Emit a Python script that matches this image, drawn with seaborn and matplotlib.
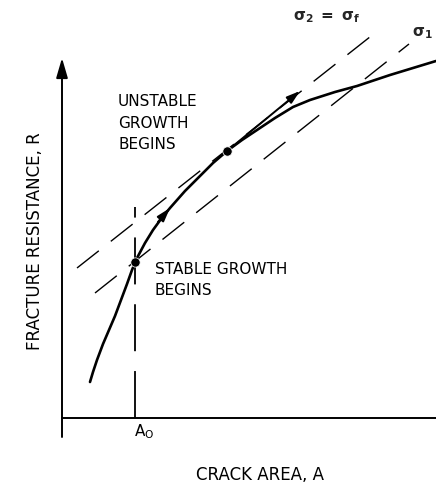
import numpy as np
import pandas as pd
import matplotlib
matplotlib.use("Agg")
import matplotlib.pyplot as plt
import seaborn as sns

# R-curve (crack area A, fracture resistance R; arbitrary units)
crack_area = [2.8, 3.1, 3.5, 4.1, 4.7, 5.3, 5.9, 6.5, 7.0, 7.5, 8.3, 9.1, 9.9, 10.8,
              12.3, 13.8, 15.1, 16.5, 18.0, 19.5, 21.3, 23.1, 24.8, 27.3, 29.5, 32.8, 37.4]
resistance = [3.6, 4.6, 5.8, 7.4, 8.8, 10.2, 11.8, 13.4, 14.8, 16.0, 17.5, 18.8, 19.9, 21.0,
              22.7, 24.2, 25.5, 26.7, 27.8, 28.8, 30.0, 31.1, 31.8, 32.6, 33.2, 34.3, 35.7]

# driving-force lines (end points)
sigma_f_A = [1.5, 31.8]
sigma_f_R = [15.0, 38.9]
sigma_1_A = [3.3, 34.7]
sigma_1_R = [12.5, 37.4]

# marked points: stable growth begins, unstable growth begins
point_A = [7.3, 16.5]
point_R = [15.6, 26.7]
A0 = 7.3

sns.set_style("white")
plt.rcParams['font.family'] = ['DejaVu Sans']

fig = plt.figure(figsize=(4.36, 4.83), dpi=100)
ax = fig.add_axes([0, 0, 1, 1])
ax.set_xlim(-6.2, 37.4)
ax.set_ylim(-6.5, 41.8)
ax.axis("off")

curve = pd.DataFrame({"A": crack_area, "R": resistance})
sns.lineplot(data=curve, x="A", y="R", sort=False, color="black", lw=1.9, ax=ax)
ax.lines[-1].set_solid_joinstyle("round")

sns.lineplot(x=sigma_f_A, y=sigma_f_R, color="black", lw=1.0, ax=ax)
ax.lines[-1].set_dashes((20, 11))
sns.lineplot(x=sigma_1_A, y=sigma_1_R, color="black", lw=1.0, ax=ax)
ax.lines[-1].set_dashes((20, 11))
ax.plot([A0, A0], [0, 21.1], color="black", lw=1.3, dashes=(26, 11))

sns.scatterplot(x=point_A, y=point_R, color="black", s=45, zorder=5, ax=ax)

# axes with arrow
ax.plot([0, 37.4], [0, 0], color="black", lw=1.4)
ax.annotate("", xy=(0, 36.0), xytext=(0, -1.9),
            arrowprops=dict(arrowstyle="-|>,head_length=1.2,head_width=0.35",
                            color="black", lw=1.4, shrinkA=0, shrinkB=0))

# arrows along the curve
ax.annotate("", xy=(10.8, 21.0), xytext=(9.6, 19.6),
            arrowprops=dict(arrowstyle="-|>,head_length=0.8,head_width=0.25",
                            color="black", lw=1.5, shrinkA=0, shrinkB=0))
ax.annotate("", xy=(23.8, 32.7), xytext=(16.5, 26.7),
            arrowprops=dict(arrowstyle="-|>,head_length=0.8,head_width=0.25",
                            color="black", lw=1.4, shrinkA=0, shrinkB=0))

txt = dict(color="black", fontsize=11, family="DejaVu Sans")
ax.text(5.6, 29.5, "UNSTABLE\nGROWTH\nBEGINS", ha="left", va="center",
        linespacing=1.55, **txt)
ax.text(9.3, 13.8, "STABLE GROWTH\nBEGINS", ha="left", va="center",
        linespacing=1.5, **txt)
ax.text(26.5, 40.1, r"$\mathbf{\sigma_2\ =\ \sigma_f}$", ha="center", va="center",
        fontsize=11)
ax.text(36.0, 38.5, r"$\mathbf{\sigma_1}$", ha="center", va="center", fontsize=11)
ax.text(A0 + 0.9, -1.4, r"A$_\mathrm{O}$", ha="center", va="center", **txt)
ax.text(19.8, -5.7, "CRACK AREA, A", ha="center", va="center",
        color="black", fontsize=12)
ax.text(-2.7, 17.7, "FRACTURE RESISTANCE, R", ha="center", va="center",
        rotation=90, color="black", fontsize=12)

fig.savefig("out.png", dpi=100)
